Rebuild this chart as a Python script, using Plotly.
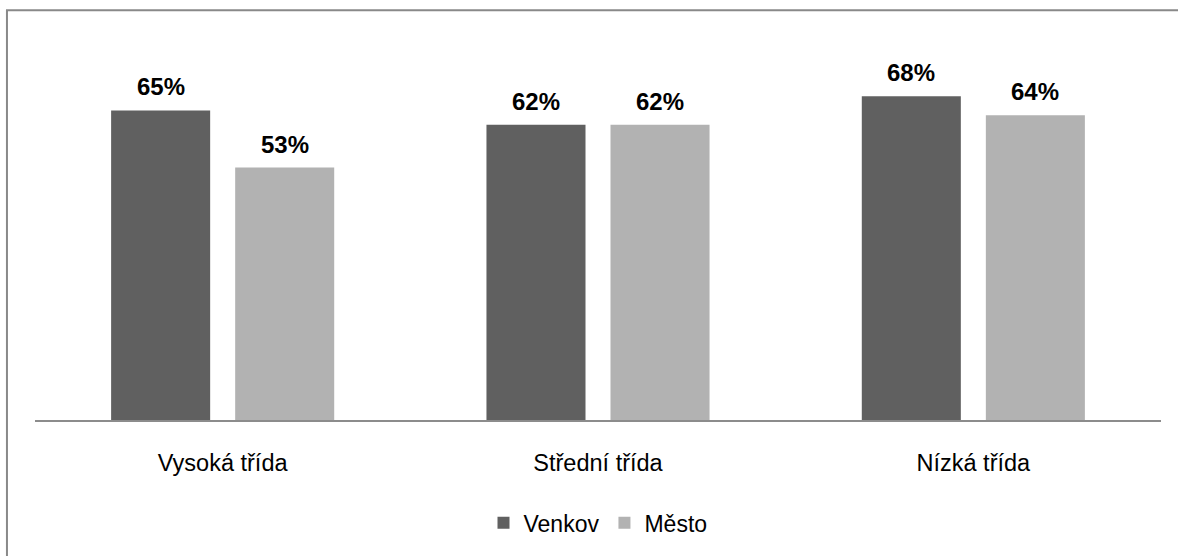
import plotly.graph_objects as go

categories = ["Vysoká třída", "Střední třída", "Nízká třída"]
venkov = [65, 62, 68]
mesto = [53, 62, 64]
series_names = ["Venkov", "Město"]
colors = ["#606060", "#b2b2b2"]

FONT = "Arial, Liberation Sans, sans-serif"
BARGAP = 0.339
BARGROUPGAP = 0.2016

fig = go.Figure()
for name, vals, col in zip(series_names, [venkov, mesto], colors):
    fig.add_trace(go.Bar(x=categories, y=vals, name=name, marker=dict(color=col, line=dict(width=0)),
                         hoverinfo="skip"))

# data labels above bars
offset = (1 - BARGAP) / 4
for s, vals in enumerate([venkov, mesto]):
    sign = -1 if s == 0 else 1
    for i, v in enumerate(vals):
        fig.add_annotation(x=i + sign * offset, y=v, xref="x", yref="y", text=f"<b>{v}%</b>",
                           showarrow=False, yanchor="bottom", yshift=8,
                           font=dict(family=FONT, size=24, color="#000000"))

fig.add_shape(type="rect", xref="paper", yref="paper", x0=-0.0249, x1=1.2, y0=-0.6, y1=1.0753,
              line=dict(color="#898989", width=2), fillcolor="rgba(0,0,0,0)", layer="below")

fig.update_layout(
    width=1178, height=556,
    margin=dict(l=35, r=17, t=39, b=132),
    paper_bgcolor="white", plot_bgcolor="white",
    barmode="group", bargap=BARGAP, bargroupgap=BARGROUPGAP,
    font=dict(family=FONT, size=23, color="#000000"),
    showlegend=True,
    legend=dict(orientation="h", x=0.5, xanchor="center", y=-0.27, yanchor="middle",
                font=dict(family=FONT, size=23, color="#000000"), itemwidth=30,
                traceorder="normal"),
    xaxis=dict(type="category", showline=True, linecolor="#8c8c8c", linewidth=2,
               ticks="", showgrid=False, ticklabelstandoff=21,
               tickfont=dict(family=FONT, size=23.5, color="#000000")),
    yaxis=dict(range=[0, 80], visible=False, showgrid=False, zeroline=False),
)

fig.write_html("out.html", config={"displayModeBar": False},
               post_script="document.body.style.margin='0';")
